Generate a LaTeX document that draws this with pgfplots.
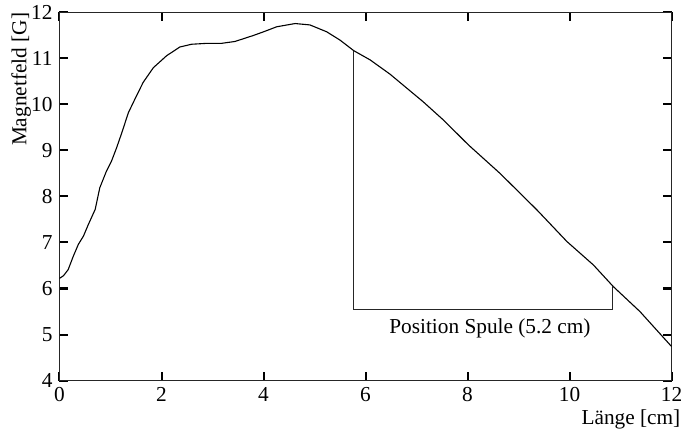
\documentclass[border=0pt]{standalone}
\usepackage{fontspec}
\setmainfont{Liberation Serif}
\usepackage{pgfplots}
\pgfplotsset{compat=1.18}
\begin{document}
\begin{tikzpicture}
\begin{axis}[
  at={(0,0)}, anchor=south west,
  scale only axis, width=306pt, height=184pt,
  xmin=0, xmax=12, ymin=4, ymax=12,
  xtick={0,2,...,12}, ytick={4,5,...,12},
  tick align=inside,
  major tick length=4.5pt,
  every tick/.append style={black, line width=1pt},
  axis line style={line width=0.5pt, black!85},
  /pgf/number format/assume math mode=true,
  font=\fontsize{10.65}{12.8}\selectfont,
  xlabel={Länge [cm]},
  ylabel={Magnetfeld [G]},
  xlabel style={at={(axis description cs:1,0)}, anchor=base east, yshift=-22.2pt, xshift=4.6pt, inner sep=0pt},
  ylabel style={at={(axis description cs:0,1)}, anchor=base east, yshift=16.6pt, inner sep=0pt},
]
\addplot[black, line width=0.55pt] coordinates {
(0,6.22) (0.08,6.28) (0.17,6.41) (0.27,6.70) (0.37,6.96) (0.47,7.14) (0.565,7.39) (0.70,7.72)
(0.79,8.19) (0.92,8.55) (1.02,8.77) (1.12,9.06) (1.22,9.38) (1.35,9.82) (1.48,10.12) (1.64,10.48)
(1.84,10.80) (2.10,11.06) (2.36,11.25) (2.59,11.31) (2.9,11.33) (3.18,11.33) (3.44,11.37) (3.80,11.50)
(4.0,11.58) (4.26,11.69) (4.62,11.76) (4.91,11.73) (5.24,11.58) (5.50,11.40) (5.77,11.17) (6.09,10.97)
(6.48,10.66) (6.87,10.30) (7.13,10.06) (7.53,9.66) (8.02,9.12) (8.64,8.50) (9.36,7.71) (9.95,7.02)
(10.47,6.51) (10.86,6.04) (11.38,5.50) (12.0,4.74)
};
\addplot[black!85, line width=0.45pt] coordinates {(5.76,11.17) (5.76,5.55) (10.85,5.55) (10.85,6.05)};
\node[anchor=base, inner sep=0pt] at (axis cs:8.44,5.03) {Position Spule (5.2 cm)};
\end{axis}
\pgfresetboundingbox
\path[use as bounding box] (-29.75pt,-26.25pt) rectangle (312.25pt,190.25pt);
\end{tikzpicture}
\end{document}
